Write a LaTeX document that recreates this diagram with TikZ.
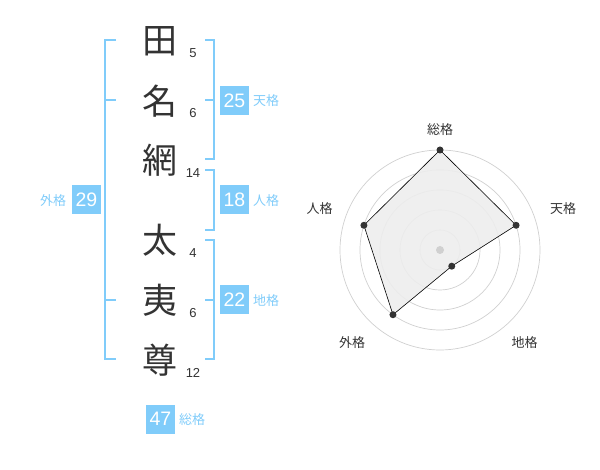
\documentclass[tikz,border=0pt]{standalone}
\usepackage{fontspec}
\setmainfont{Liberation Sans}
\newfontfamily\jp{Noto Sans CJK JP}
\usepackage{tikz}
\definecolor{kaku}{RGB}{128,204,250}
\definecolor{ink}{RGB}{51,51,51}
\definecolor{ring}{RGB}{208,208,208}

\begin{document}
\begin{tikzpicture}[x=1pt,y=1pt]
\tikzstyle{every node}+=[inner sep=0pt]
\tikzstyle{kanji}=[font=\jp\fontsize{35}{35}\selectfont,text=ink]
\tikzstyle{kakusu}=[font=\fontsize{13}{13}\selectfont,text=ink]
\tikzstyle{kbox}=[fill=kaku,minimum size=29pt,text=white,font=\fontsize{19.5}{19.5}\selectfont]
\tikzstyle{klbl}=[font=\jp\fontsize{13}{13}\selectfont,text=kaku]
\tikzstyle{brk}=[kaku,line width=2pt]
\tikzstyle{axis}=[font=\jp\fontsize{13}{13}\selectfont,text=ink]
\tikzstyle{rdot}=[circle,fill=ink,minimum size=7pt]
\useasboundingbox (0,0) rectangle (600,-470);
\node[kanji] (c1) at (160,-41) {田};
\node[kanji] (c2) at (160,-101) {名};
\node[kanji] (c3) at (160,-160) {網};
\node[kanji] (c4) at (160,-240) {太};
\node[kanji] (c5) at (160,-300) {夷};
\node[kanji] (c6) at (160,-360) {尊};
\node[kakusu] (n1) at (193,-53) {5};
\node[kakusu] (n2) at (193,-113) {6};
\node[kakusu] (n3) at (193,-173) {14};
\node[kakusu] (n4) at (193,-253) {4};
\node[kakusu] (n5) at (193,-313) {6};
\node[kakusu] (n6) at (193,-373) {12};
\draw[brk] (116,-40) -- (105,-40) -- (105,-359) -- (116,-359);
\draw[brk] (105,-100) -- (116,-100);
\draw[brk] (105,-300) -- (116,-300);
\draw[brk] (205,-40) -- (214,-40) -- (214,-159) -- (205,-159);
\draw[brk] (214,-100) -- (205,-100);
\draw[brk] (205,-170) -- (214,-170) -- (214,-230) -- (205,-230);
\draw[brk] (205,-240) -- (214,-240) -- (214,-359) -- (205,-359);
\draw[brk] (214,-300) -- (205,-300);
\node[kbox] (kten) at (234.5,-100.5) {25};
\node[klbl] (lten) at (266,-101) {天格};
\node[kbox] (kjin) at (234.5,-200) {18};
\node[klbl] (ljin) at (266,-201) {人格};
\node[kbox] (kchi) at (234.5,-300) {22};
\node[klbl] (lchi) at (266,-301) {地格};
\node[kbox] (kgai) at (86.5,-200) {29};
\node[klbl] (lgai) at (53,-201) {外格};
\node[kbox] (ksou) at (160.5,-419) {47};
\node[klbl] (lsou) at (192,-420) {総格};
\coordinate (o) at (440,-250);
\foreach \r in {20,40,60,80,100}
  \draw[ring,line width=0.7pt] (o) circle (\r pt);
\path (o) ++(90:100pt) coordinate (rsou);
\path (o) ++(18:80pt) coordinate (rten);
\path (o) ++(-54:20pt) coordinate (rchi);
\path (o) ++(-126:80pt) coordinate (rgai);
\path (o) ++(162:80pt) coordinate (rjin);
\filldraw[fill=black!7,fill opacity=0.9,draw=black,line width=0.6pt] (rsou) -- (rten) -- (rchi) -- (rgai) -- (rjin) -- cycle;
\fill[ring] (o) circle (4pt);
\foreach \p in {rsou,rten,rchi,rgai,rjin}
  \node[rdot] at (\p) {};
\node[axis] (asou) at (440,-130) {総格};
\node[axis] (aten) at (563,-209) {天格};
\node[axis] (achi) at (524.5,-343) {地格};
\node[axis] (agai) at (352,-343) {外格};
\node[axis] (ajin) at (319.5,-209) {人格};
\end{tikzpicture}
\end{document}
